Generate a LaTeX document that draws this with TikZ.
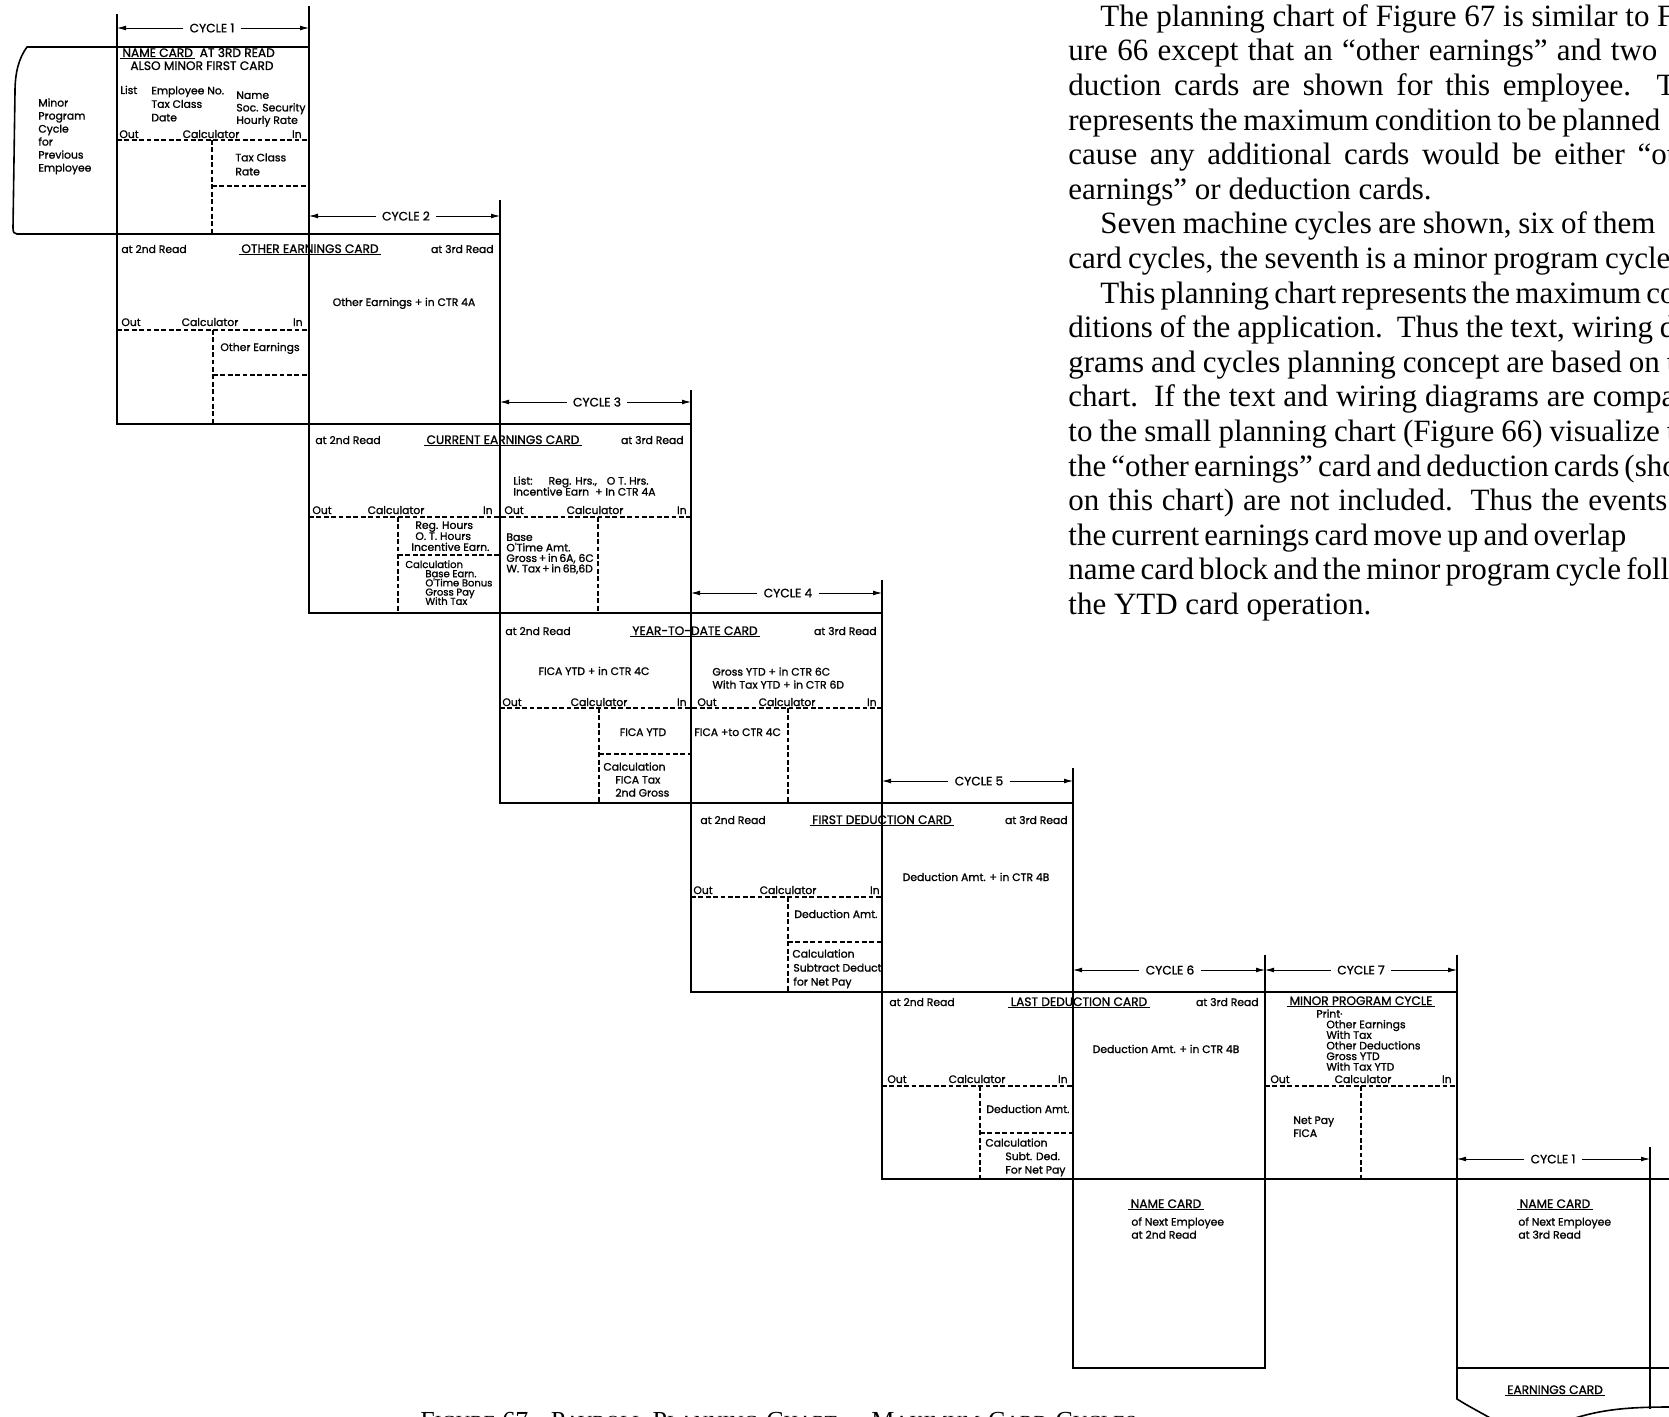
\documentclass[tikz,border=0pt]{standalone}
\usepackage{fontspec}
\usepackage{tikz}
\usetikzlibrary{arrows.meta}
\newfontfamily\chartfont[FakeBold=1.2]{Poppins}
\newfontfamily\bodyfont{Liberation Serif}
\newcommand\chartsize[1]{\fontsize{5.4}{#1}\selectfont\lineskiplimit=-20pt\relax}
\newcommand\tightsize{\fontsize{5}{4.6}\selectfont\lineskiplimit=-20pt\relax}
\newcommand\smc[1]{{\fontsize{10}{10}\selectfont #1}}

\begin{document}
\begin{tikzpicture}[x=0.5pt, y=-0.5pt,
  card/.style={line width=0.8pt},
  calcline/.style={line width=0.55pt, dash pattern=on 2.4pt off 1.3pt},
  tickline/.style={line width=0.6pt},
  dimline/.style={line width=0.4pt, -{Latex[length=4.5pt,width=2.4pt]}},
  uline/.style={line width=0.75pt},
  lbl/.style={inner sep=0pt, font=\chartfont\chartsize{6.5}},
  ttl/.style={inner sep=0pt, font=\chartfont\fontsize{6.1}{7}\selectfont},
  lblock/.style={lbl, align=left, anchor=north west, font=\chartfont\chartsize{#1}},
  lblock/.default=6.5,
  cyc/.style={ttl, inner xsep=3pt}]
  \useasboundingbox (0,0) rectangle (1669,1417);

  % cycle dimension lines
  \draw[tickline] (117,14) -- (117,47);
  \draw[tickline] (309,6) -- (309,47);
  \draw[tickline] (500,200) -- (500,234);
  \draw[tickline] (691,390) -- (691,424);
  \draw[tickline] (882,580) -- (882,613);
  \draw[tickline] (1073,768) -- (1073,803);
  \draw[tickline] (1265,955) -- (1265,992);
  \draw[tickline] (1457,955) -- (1457,992);
  \draw[tickline] (1650,1147) -- (1650,1179);
  \node[cyc] (cyc1) at (212,28) {CYCLE 1};
  \node[cyc] (cyc2) at (406,216) {CYCLE 2};
  \node[cyc] (cyc3) at (597,402) {CYCLE 3};
  \node[cyc] (cyc4) at (788,593) {CYCLE 4};
  \node[cyc] (cyc5) at (979,781) {CYCLE 5};
  \node[cyc] (cyc6) at (1170,970) {CYCLE 6};
  \node[cyc] (cyc7) at (1361,970) {CYCLE 7};
  \node[cyc] (cyc8) at (1553,1159) {CYCLE 1};
  \coordinate (c1l) at (117,28);   \coordinate (c1r) at (309,28);
  \coordinate (c2l) at (309,216);  \coordinate (c2r) at (500,216);
  \coordinate (c3l) at (500,402);  \coordinate (c3r) at (691,402);
  \coordinate (c4l) at (691,593);  \coordinate (c4r) at (882,593);
  \coordinate (c5l) at (882,781);  \coordinate (c5r) at (1073,781);
  \coordinate (c6l) at (1073,970); \coordinate (c6r) at (1265,970);
  \coordinate (c7l) at (1265,970); \coordinate (c7r) at (1457,970);
  \coordinate (c8l) at (1457,1159); \coordinate (c8r) at (1650,1159);
  \draw[dimline] (cyc1) -- (c1l); \draw[dimline] (cyc1) -- (c1r);
  \draw[dimline] (cyc2) -- (c2l); \draw[dimline] (cyc2) -- (c2r);
  \draw[dimline] (cyc3) -- (c3l); \draw[dimline] (cyc3) -- (c3r);
  \draw[dimline] (cyc4) -- (c4l); \draw[dimline] (cyc4) -- (c4r);
  \draw[dimline] (cyc5) -- (c5l); \draw[dimline] (cyc5) -- (c5r);
  \draw[dimline] (cyc6) -- (c6l); \draw[dimline] (cyc6) -- (c6r);
  \draw[dimline] (cyc7) -- (c7l); \draw[dimline] (cyc7) -- (c7r);
  \draw[dimline] (cyc8) -- (c8l); \draw[dimline] (cyc8) -- (c8r);

  % card outlines
  \draw[card] (117,47) -- (27,47) .. controls (19,58) and (15,72) .. (15,92)
    -- (13,228) .. controls (13,232) and (14,234) .. (17,234) -- (117,234);
  \draw[card] (117,47) rectangle (309,234);
  \draw[card] (117,234) rectangle (500,424);  \draw[card] (309,234) -- (309,424);
  \draw[card] (309,424) rectangle (691,613);  \draw[card] (500,424) -- (500,613);
  \draw[card] (500,613) rectangle (882,803);  \draw[card] (691,613) -- (691,803);
  \draw[card] (691,803) rectangle (1073,992); \draw[card] (882,803) -- (882,992);
  \draw[card] (882,992) rectangle (1265,1179); \draw[card] (1073,992) -- (1073,1179);
  \draw[card] (1265,992) rectangle (1457,1179);
  \draw[card] (1073,1179) rectangle (1265,1368);
  \draw[card] (1457,1179) rectangle (1650,1368);
  \draw[card] (1650,1179) -- (1669,1179);
  \draw[card] (1650,1368) -- (1669,1368);
  \draw[card] (1650,1368) -- (1650,1409);
  \draw[card] (1457,1368) -- (1457,1399) .. controls (1468,1406) and (1478,1411) .. (1492,1419);
  \draw[card] (1572,1419) .. controls (1600,1410) and (1625,1407) .. (1669,1407);

  % calculator fields
  \draw[calcline] (117,140) -- (309,140);
  \draw[calcline] (212,140) -- (212,234);
  \draw[calcline] (212,186) -- (309,186);
  \draw[calcline] (117,330) -- (309,330);
  \draw[calcline] (213,330) -- (213,424);
  \draw[calcline] (213,375) -- (309,375);
  \draw[calcline] (309,517) -- (691,517);
  \draw[calcline] (398,517) -- (398,613);
  \draw[calcline] (398,555) -- (500,555);
  \draw[calcline] (598,517) -- (598,613);
  \draw[calcline] (500,708) -- (882,708);
  \draw[calcline] (599,708) -- (599,803);
  \draw[calcline] (599,754) -- (691,754);
  \draw[calcline] (788,708) -- (788,803);
  \draw[calcline] (691,897) -- (882,897);
  \draw[calcline] (788,897) -- (788,992);
  \draw[calcline] (788,942) -- (882,942);
  \draw[calcline] (882,1086) -- (1073,1086);
  \draw[calcline] (980,1086) -- (980,1179);
  \draw[calcline] (980,1133) -- (1073,1133);
  \draw[calcline] (1265,1086) -- (1457,1086);
  \draw[calcline] (1361,1086) -- (1361,1179);

  % previous employee
  \node[lblock] (prev) at (38,98) {Minor\\Program\\Cycle\\for\\Previous\\Employee};

  % name card at 3rd read
  \node[ttl, anchor=base west] (nc1-name) at (122,57) {NAME CARD};
  \node[ttl, anchor=base west, xshift=3pt] (nc1-read) at (nc1-name.base east) {AT 3RD READ};
  \node[ttl, anchor=base west] (nc1-also) at (130,70) {ALSO MINOR FIRST CARD};
  \node[lbl, anchor=base west] (nc1-list) at (120,94) {List};
  \node[lblock=6.75] (nc1-emp) at (151,86) {Employee No.\\Tax Class\\Date};
  \node[lblock=6.25] (nc1-nm) at (236,91) {Name\\Soc. Security\\Hourly Rate};
  \node[lbl, anchor=base west] (nc1-out) at (119,138) {Out};
  \node[lbl, anchor=base] (nc1-calc) at (211,138) {Calculator};
  \node[lbl, anchor=base east] (nc1-in) at (302,138) {In};
  \node[lblock=7] (nc1-tax) at (235,153) {Tax Class\\Rate};

  % other earnings card
  \node[lbl, anchor=base west] (oe-r2) at (121,253) {at 2nd Read};
  \node[ttl, anchor=base] (oe-title) at (310,253) {OTHER EARNINGS CARD};
  \node[lbl, anchor=base east] (oe-r3) at (494,253) {at 3rd Read};
  \node[lbl, anchor=base] (oe-add) at (404,306) {Other Earnings + in CTR 4A};
  \node[lbl, anchor=base west] (oe-out) at (121,326) {Out};
  \node[lbl, anchor=base] (oe-calc) at (210,326) {Calculator};
  \node[lbl, anchor=base east] (oe-in) at (303,326) {In};
  \node[lbl, anchor=base west] (oe-amt) at (220,351) {Other Earnings};

  % current earnings card
  \node[lbl, anchor=base west] (ce-r2) at (315,444) {at 2nd Read};
  \node[ttl, anchor=base] (ce-title) at (503,444) {CURRENT EARNINGS CARD};
  \node[lbl, anchor=base east] (ce-r3) at (684,444) {at 3rd Read};
  \node[lblock=5.5] (ce-list) at (513,476) {List:\hspace{8pt}Reg. Hrs.,\hspace{5pt}O T. Hrs.\\Incentive Earn\hspace{3pt}+ In CTR 4A};
  \node[lbl, anchor=base west] (ce-out) at (312,514) {Out};
  \node[lbl, anchor=base] (ce-calc) at (396,514) {Calculator};
  \node[lbl, anchor=base east] (ce-in) at (493,514) {In};
  \node[lbl, anchor=base west] (ce-out2) at (504,514) {Out};
  \node[lbl, anchor=base] (ce-calc2) at (595,514) {Calculator};
  \node[lbl, anchor=base east] (ce-in2) at (687,514) {In};
  \node[lblock=5.5] (ce-hrs) at (411,521) {\hspace*{2pt}Reg. Hours\\\hspace*{2pt}O. T. Hours\\Incentive Earn.};
  \node[lblock, font=\chartfont\tightsize] (ce-work) at (405,560)
    {Calculation\\\hspace*{10pt}Base Earn.\\\hspace*{10pt}O'Time Bonus\\\hspace*{10pt}Gross Pay\\\hspace*{10pt}With Tax};
  \node[lblock=5.25] (ce-base) at (506,533) {Base\\O'Time Amt.\\Gross\,+\,in\,6A, 6C\\W. Tax\,+\,in\,6B,6D};

  % year-to-date card
  \node[lbl, anchor=base west] (ytd-r2) at (505,635) {at 2nd Read};
  \node[ttl, anchor=base] (ytd-title) at (695,635) {YEAR-TO-DATE CARD};
  \node[lbl, anchor=base east] (ytd-r3) at (877,635) {at 3rd Read};
  \node[lbl, anchor=base] (ytd-fica) at (594,675) {FICA YTD + in CTR 4C};
  \node[lblock] (ytd-gross) at (712,667) {Gross YTD + in CTR 6C\\With Tax YTD + in CTR 6D};
  \node[lbl, anchor=base west] (ytd-out) at (502,706) {Out};
  \node[lbl, anchor=base] (ytd-calc) at (599,706) {Calculator};
  \node[lbl, anchor=base east] (ytd-in) at (687,706) {In};
  \node[lbl, anchor=base west] (ytd-out2) at (697,706) {Out};
  \node[lbl, anchor=base] (ytd-calc2) at (787,706) {Calculator};
  \node[lbl, anchor=base east] (ytd-in2) at (877,706) {In};
  \node[lbl, anchor=base] (ytd-amt) at (643,736) {FICA YTD};
  \node[lbl, anchor=base west] (ytd-to) at (694,736) {FICA +to CTR 4C};
  \node[lblock] (ytd-work) at (603,762) {Calculation\\\hspace*{6pt}FICA Tax\\\hspace*{6pt}2nd Gross};

  % first deduction card
  \node[lbl, anchor=base west] (fd-r2) at (700,824) {at 2nd Read};
  \node[ttl, anchor=base] (fd-title) at (882,824) {FIRST DEDUCTION CARD};
  \node[lbl, anchor=base east] (fd-r3) at (1068,824) {at 3rd Read};
  \node[lbl, anchor=base] (fd-add) at (976,881) {Deduction Amt. + in CTR 4B};
  \node[lbl, anchor=base west] (fd-out) at (693,894) {Out};
  \node[lbl, anchor=base] (fd-calc) at (788,894) {Calculator};
  \node[lbl, anchor=base east] (fd-in) at (880,894) {In};
  \node[lbl, anchor=base west] (fd-amt) at (794,918) {Deduction Amt.};
  \node[lblock=7] (fd-work) at (792,949) {Calculation\\\hspace*{0.5pt}Subtract Deduct\\\hspace*{0.5pt}for Net Pay};

  % last deduction card
  \node[lbl, anchor=base west] (ld-r2) at (889,1006) {at 2nd Read};
  \node[ttl, anchor=base] (ld-title) at (1079,1006) {LAST DEDUCTION CARD};
  \node[lbl, anchor=base east] (ld-r3) at (1259,1006) {at 3rd Read};
  \node[lbl, anchor=base] (ld-add) at (1166,1053) {Deduction Amt. + in CTR 4B};
  \node[lbl, anchor=base west] (ld-out) at (887,1083) {Out};
  \node[lbl, anchor=base] (ld-calc) at (977,1083) {Calculator};
  \node[lbl, anchor=base east] (ld-in) at (1068,1083) {In};
  \node[lbl, anchor=base west] (ld-amt) at (986,1113) {Deduction Amt.};
  \node[lblock=6.75] (ld-work) at (985,1138) {Calculation\\\hspace*{10pt}Subt. Ded.\\\hspace*{10pt}For Net Pay};

  % minor program cycle
  \node[ttl, anchor=base] (mp-title) at (1361,1005) {MINOR PROGRAM CYCLE};
  \node[lblock=5.3] (mp-print) at (1316,1009) {Print·\\\hspace*{5pt}Other Earnings\\\hspace*{5pt}With Tax\\\hspace*{5pt}Other Deductions\\\hspace*{5pt}Gross YTD\\\hspace*{5pt}With Tax YTD};
  \node[lbl, anchor=base west] (mp-out) at (1270,1083) {Out};
  \node[lbl, anchor=base] (mp-calc) at (1363,1083) {Calculator};
  \node[lbl, anchor=base east] (mp-in) at (1452,1083) {In};
  \node[lblock] (mp-net) at (1293,1116) {Net Pay\\FICA};

  % next employee
  \node[ttl, anchor=base] (nx2-title) at (1166,1208) {NAME CARD};
  \node[lblock] (nx2-of) at (1131,1217) {of Next Employee\\at 2nd Read};
  \node[ttl, anchor=base] (nx3-title) at (1555,1208) {NAME CARD};
  \node[lblock] (nx3-of) at (1518,1217) {of Next Employee\\at 3rd Read};
  \node[ttl, anchor=base] (earn-title) at (1555,1394) {EARNINGS CARD};

  % underlines
  \draw[uline] ([xshift=-1pt,yshift=-0.8pt]nc1-name.base west) -- ([xshift=1pt,yshift=-0.8pt]nc1-name.base east);
  \draw[uline] ([xshift=-1pt,yshift=-0.8pt]oe-title.base west) -- ([xshift=1pt,yshift=-0.8pt]oe-title.base east);
  \draw[uline] ([xshift=-1pt,yshift=-0.8pt]ce-title.base west) -- ([xshift=1pt,yshift=-0.8pt]ce-title.base east);
  \draw[uline] ([xshift=-1pt,yshift=-0.8pt]ytd-title.base west) -- ([xshift=1pt,yshift=-0.8pt]ytd-title.base east);
  \draw[uline] ([xshift=-1pt,yshift=-0.8pt]fd-title.base west) -- ([xshift=1pt,yshift=-0.8pt]fd-title.base east);
  \draw[uline] ([xshift=-1pt,yshift=-0.8pt]ld-title.base west) -- ([xshift=1pt,yshift=-0.8pt]ld-title.base east);
  \draw[uline] ([xshift=-1pt,yshift=-0.8pt]mp-title.base west) -- ([xshift=1pt,yshift=-0.8pt]mp-title.base east);
  \draw[uline] ([xshift=-1pt,yshift=-0.8pt]nx2-title.base west) -- ([xshift=1pt,yshift=-0.8pt]nx2-title.base east);
  \draw[uline] ([xshift=-1pt,yshift=-0.8pt]nx3-title.base west) -- ([xshift=1pt,yshift=-0.8pt]nx3-title.base east);
  \draw[uline] ([xshift=-1pt,yshift=-0.8pt]earn-title.base west) -- ([xshift=1pt,yshift=-0.8pt]earn-title.base east);

  % running text
  \node[anchor=north west, inner sep=0pt, align=left,
    font=\bodyfont\fontsize{15.5}{17.3}\selectfont] (body) at (1068,4) {%
    \hspace*{16pt}\makebox[287pt][s]{The planning chart of Figure 67 is similar to F}\\
    \makebox[294.5pt][s]{ure 66 except that an “other earnings” and two}\\
    \makebox[303.5pt][s]{duction cards are shown for this employee.\ \ T}\\
    \makebox[296pt][s]{represents the maximum condition to be planned}\\
    \makebox[303.5pt][s]{cause any additional cards would be either “ot}\\
    earnings” or deduction cards.\\
    \hspace*{16pt}\makebox[277.5pt][s]{Seven machine cycles are shown, six of them}\\
    \makebox[301pt][s]{card cycles, the seventh is a minor program cycle}\\
    \hspace*{16pt}\makebox[287pt][s]{This planning chart represents the maximum co}\\
    \makebox[303.5pt][s]{ditions of the application.\ \ Thus the text, wiring d}\\
    \makebox[303.5pt][s]{grams and cycles planning concept are based on t}\\
    \makebox[303.5pt][s]{chart.\ \ If the text and wiring diagrams are compa}\\
    \makebox[303.5pt][s]{to the small planning chart (Figure 66) visualize t}\\
    \makebox[303.5pt][s]{the “other earnings” card and deduction cards (sho}\\
    \makebox[299.5pt][s]{on this chart) are not included.\ \ Thus the events}\\
    \makebox[279pt][s]{the current earnings card move up and overlap}\\
    \makebox[303.5pt][s]{name card block and the minor program cycle follo}\\
    the YTD card operation.};

  % caption, cut by the page edge
  \node[anchor=base west, inner sep=0pt, font=\bodyfont\fontsize{13}{13}\selectfont] (caption) at (420,1429)
    {F\smc{IGURE} 67.\hspace{8pt}P\smc{AYROLL}\hspace{4pt}P\smc{LANNING}\hspace{4pt}C\smc{HART}\,—\,M\smc{AXIMUM}\hspace{4pt}C\smc{ARD}\hspace{4pt}C\smc{YCLES}};
\end{tikzpicture}
\end{document}
